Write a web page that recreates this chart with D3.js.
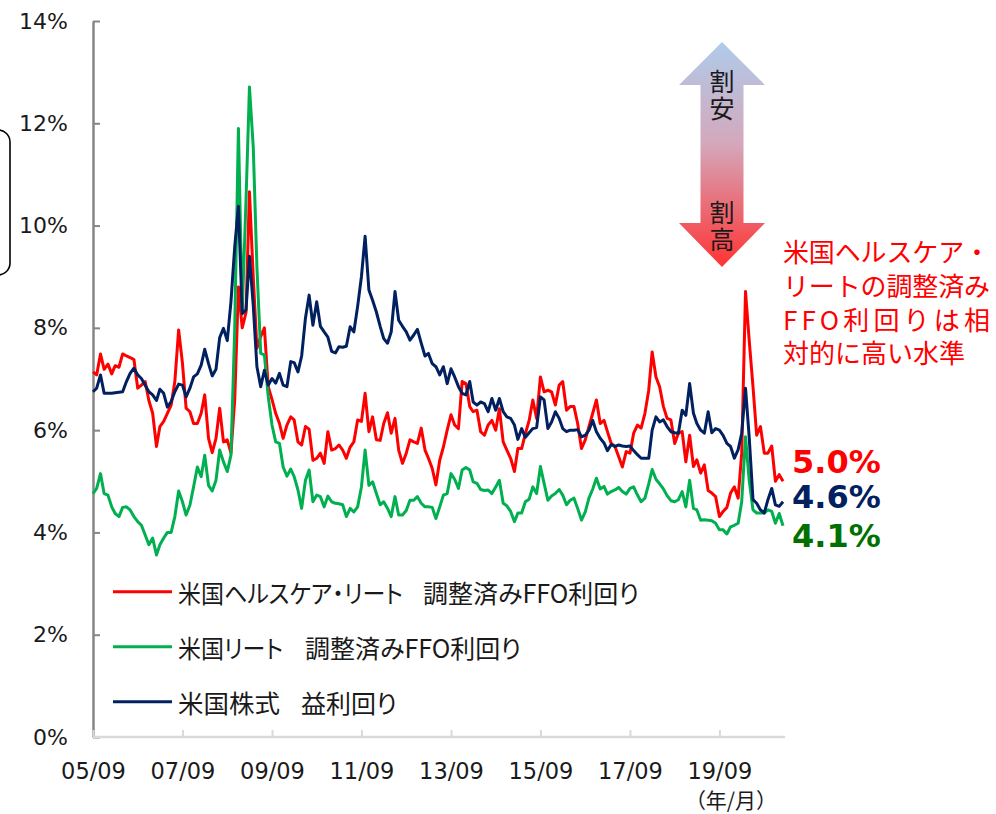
<!DOCTYPE html>
<html><head><meta charset="utf-8">
<script src="https://cdn.jsdelivr.net/npm/d3@7"></script>
<style>body{margin:0;background:#fff}svg{display:block}</style>
</head><body><svg id="c" width="996" height="814"></svg>
<script>
const startMonth = "2005-09";
const healthcareREIT = [7.14,7.08,7.49,7.19,7.29,7.10,7.26,7.23,7.49,7.45,
7.42,7.38,6.82,6.88,6.95,6.58,6.33,5.68,6.07,6.17,
6.33,6.49,6.95,7.96,7.31,6.43,6.36,6.13,6.13,6.33,
6.69,5.84,5.56,5.84,6.43,5.77,5.81,5.55,6.60,8.80,
8.00,8.30,10.66,9.00,7.60,7.83,8.00,6.85,6.60,6.33,
6.13,5.84,6.10,6.26,6.20,5.77,5.71,6.07,6.02,5.41,
5.45,5.55,5.35,5.97,5.61,5.64,5.71,5.61,5.45,5.67,
5.77,6.20,6.17,6.72,5.97,6.26,5.81,5.80,6.13,6.34,
5.94,6.23,5.61,5.35,5.55,5.81,5.77,5.74,6.04,5.61,
5.45,5.25,4.93,5.41,5.67,6.00,6.30,6.10,6.03,6.95,
6.91,6.46,6.36,6.39,5.97,5.90,6.10,6.19,6.00,6.42,
5.77,5.61,5.45,5.19,5.64,5.64,5.93,6.19,6.59,6.23,
7.04,6.75,6.78,6.75,6.49,6.88,6.95,6.39,6.46,6.46,
6.13,5.64,5.81,6.07,6.33,6.59,6.13,6.19,5.97,5.74,
5.68,5.48,5.28,5.58,5.55,5.94,6.10,6.04,6.33,6.78,
7.53,7.04,6.85,6.46,6.23,6.20,5.74,5.94,5.97,5.38,
5.90,5.29,5.42,5.16,5.32,4.82,4.77,4.70,4.31,4.41,
4.49,4.77,4.89,4.67,5.55,8.71,7.76,6.85,5.90,6.07,
5.55,5.55,5.69,5.00,5.13,5.00];
const usREIT = [4.76,4.86,5.15,4.76,4.73,4.50,4.37,4.31,4.49,4.50,
4.44,4.31,4.21,4.14,3.95,3.76,3.89,3.56,3.76,3.89,
4.00,4.00,4.31,4.81,4.60,4.34,4.53,4.89,5.28,5.09,
5.51,4.92,4.81,5.02,5.61,5.38,5.19,5.51,8.00,11.90,
8.30,10.50,12.71,11.54,9.19,7.50,7.47,6.66,6.10,5.77,
5.74,5.28,5.10,5.24,5.09,4.83,4.47,5.02,5.22,4.60,
4.73,4.70,4.50,4.71,4.60,4.57,4.56,4.54,4.31,4.47,
4.40,4.50,4.89,5.61,4.92,4.99,4.76,4.54,4.60,4.47,
4.31,4.70,4.34,4.34,4.43,4.63,4.63,4.70,4.57,4.50,
4.50,4.49,4.27,4.50,4.73,4.76,5.15,5.04,4.86,5.22,
5.27,5.22,4.99,4.96,4.84,4.82,4.83,4.76,4.89,5.02,
4.57,4.52,4.41,4.21,4.38,4.38,4.60,4.65,4.89,4.76,
5.29,4.96,4.63,4.71,4.76,4.84,4.73,4.54,4.63,4.67,
4.47,4.24,4.40,4.67,4.85,5.06,4.85,4.90,4.75,4.80,
4.83,4.88,4.80,4.75,4.86,4.89,4.73,4.60,4.67,4.95,
5.23,5.04,4.95,4.85,4.72,4.62,4.60,4.64,4.80,4.50,
5.02,4.47,4.44,4.24,4.25,4.24,4.23,4.18,4.05,4.05,
3.97,4.11,4.14,4.18,4.60,5.87,5.02,4.44,4.38,4.38,
4.38,4.44,4.41,4.18,4.37,4.13];
const usEquity = [6.75,6.82,7.08,6.72,6.72,6.72,6.73,6.74,6.75,6.95,
7.11,7.21,7.08,7.01,6.88,6.75,6.69,6.58,6.80,6.72,
6.45,6.56,6.75,6.90,6.88,6.65,6.82,7.04,7.10,7.27,
7.58,7.30,7.06,7.19,7.81,7.99,7.75,8.51,9.59,10.38,
8.28,8.35,9.40,8.44,7.24,6.85,7.17,6.88,7.01,6.92,
7.11,6.88,6.85,7.34,7.32,7.14,7.45,8.19,8.64,8.05,
8.51,8.03,7.92,7.82,7.54,7.51,7.63,7.62,7.64,8.02,
7.92,8.42,9.00,9.79,8.74,8.54,8.31,8.03,7.79,7.70,
7.92,8.71,8.15,8.03,7.92,7.76,7.86,7.97,7.70,7.45,
7.50,7.30,7.24,7.08,7.24,6.91,7.20,7.04,6.85,6.72,
6.69,6.95,6.55,6.49,6.55,6.52,6.36,6.62,6.39,6.62,
6.36,6.26,6.23,6.10,5.82,6.03,5.86,5.95,6.03,6.05,
6.65,6.59,6.03,6.16,6.36,6.23,6.03,5.97,6.00,6.00,
6.01,5.87,5.90,6.00,6.19,5.97,5.84,5.75,5.60,5.72,
5.68,5.71,5.69,5.68,5.69,5.60,5.52,5.45,5.45,5.45,
6.00,6.26,6.16,6.20,6.07,5.97,5.95,5.94,6.39,6.29,
6.91,6.33,6.13,6.00,5.94,6.36,5.95,6.03,6.00,5.90,
5.74,5.68,5.45,5.62,5.94,6.82,5.87,4.64,4.57,4.44,
4.38,4.64,4.86,4.54,4.51,4.60];
const yTicks = [0,2,4,6,8,10,12,14];
const xTickMonths = ["2005-09","2007-09","2009-09","2011-09","2013-09","2015-09","2017-09","2019-09"];
const legendLabels = [["米国ヘルスケア・リート","調整済みFFO利回り"],["米国リート","調整済みFFO利回り"],["米国株式","益利回り"]];
const seriesColors = ["#FF0000","#00B050","#002060"];
const endLabels = ["5.0%","4.6%","4.1%"];
const endLabelColors = ["#FF0000","#002060","#007000"];
const noteLines = ["米国ヘルスケア・","リートの調整済み","FFO利回りは相","対的に高い水準"];
const arrowWords = ["割安","割高"];
const unitLabel = "（年/月）";

const parse = d3.timeParse("%Y-%m");
const t0 = parse(startMonth);
const dates = healthcareREIT.map((_, i) => d3.timeMonth.offset(t0, i));
const svg = d3.select("#c");
const num = "DejaVu Sans, Verdana, sans-serif";
const jp = "'Noto Sans CJK JP', sans-serif";

const x = d3.scaleTime().domain([t0, d3.timeMonth.offset(t0, 185)]).range([93, 783]);
const y = d3.scaleLinear().domain([0, 14]).range([737, 21]);

// partial frame at left
svg.append("rect").attr("x", -120).attr("y", 130).attr("width", 130).attr("height", 145)
  .attr("rx", 12).attr("fill", "none").attr("stroke", "#000").attr("stroke-width", 1.6);

// y axis
const ya = svg.append("g").attr("transform", "translate(93,0)")
  .call(d3.axisLeft(y).tickValues(yTicks).tickFormat(d => d + "%").tickSizeInner(-7).tickSizeOuter(0).tickPadding(25));
ya.select(".domain").attr("stroke", "#868686").attr("stroke-width", 2.5);
ya.selectAll(".tick line").attr("stroke", "#868686").attr("stroke-width", 2);
ya.selectAll("text").attr("font-family", num).attr("font-size", 22).attr("fill", "#1a1a1a");

// x axis
const xa = svg.append("g").attr("transform", "translate(0,737)")
  .call(d3.axisBottom(x).tickValues(xTickMonths.map(parse)).tickFormat(d3.timeFormat("%y/%m")).tickSizeInner(-7).tickSizeOuter(0).tickPadding(26));
xa.select(".domain").attr("stroke", "#D9D9D9").attr("stroke-width", 2.5).attr("d", "M93,0H785");
xa.selectAll(".tick line").attr("stroke", "#D9D9D9").attr("stroke-width", 2);
xa.selectAll("text").attr("font-family", num).attr("font-size", 22.5).attr("fill", "#1a1a1a");

svg.append("text").attr("x", 731).attr("y", 808).attr("text-anchor", "middle")
  .attr("font-family", jp).attr("font-size", 21).attr("fill", "#1a1a1a").text(unitLabel);

// lines
const line = d3.line().x((d, i) => x(dates[i])).y(d => y(d));
[healthcareREIT, usREIT, usEquity].forEach((s, k) => {
  svg.append("path").datum(s).attr("d", line).attr("fill", "none")
    .attr("stroke", seriesColors[k]).attr("stroke-width", 3).attr("stroke-linejoin", "round");
});

// legend
const legendFirstW = [225, 105, 102];
const legendSecondX = [423, 305, 301];
legendLabels.forEach((lab, k) => {
  const ly = 591.7 + k * 55;
  svg.append("line").attr("x1", 113).attr("x2", 172).attr("y1", ly).attr("y2", ly)
    .attr("stroke", seriesColors[k]).attr("stroke-width", 3);
  const t = svg.append("text").attr("x", 178).attr("y", ly).attr("dominant-baseline", "central")
    .attr("font-family", jp).attr("font-size", 25).attr("fill", "#1a1a1a")
    .style("font-feature-settings", "'palt' 1");
  t.append("tspan").attr("textLength", legendFirstW[k]).attr("lengthAdjust", "spacingAndGlyphs").text(lab[0]);
  t.append("tspan").attr("x", legendSecondX[k]).text(lab[1]);
});

// end labels
[473, 508, 547].forEach((by, k) => {
  svg.append("text").attr("x", 792).attr("y", by).attr("font-family", num).attr("font-weight", "bold")
    .attr("font-size", 32).attr("fill", endLabelColors[k]).text(endLabels[k]);
});

// annotation (one text block)
const note = svg.append("text").attr("font-family", jp).attr("font-size", 26).attr("fill", "#FF0000");
noteLines.forEach((s, k) => {
  const t = note.append("tspan").attr("x", 783).attr("y", 262 + k * 33.8).text(s);
  if (k < 3) t.attr("textLength", 207).attr("lengthAdjust", "spacing");
});

// arrow
const defs = svg.append("defs");
const g = defs.append("linearGradient").attr("id", "ag").attr("gradientUnits", "userSpaceOnUse")
  .attr("x1", 0).attr("x2", 0).attr("y1", 42).attr("y2", 267);
g.append("stop").attr("offset", "0%").attr("stop-color", "#AFCBEA");
g.append("stop").attr("offset", "45%").attr("stop-color", "#D4A8BC");
g.append("stop").attr("offset", "100%").attr("stop-color", "#FF3333");
const cx = 722;
svg.append("path").attr("fill", "url(#ag)")
  .attr("d", `M${cx},42 L${cx+43},85 L${cx+21.5},85 L${cx+21.5},223 L${cx+43},223 L${cx},267 L${cx-43},223 L${cx-21.5},223 L${cx-21.5},85 L${cx-43},85 Z`);
arrowWords.forEach((w, k) => {
  svg.append("text").attr("x", cx).attr("y", k === 0 ? 96 : 227)
    .attr("text-anchor", "middle").style("writing-mode", "vertical-rl")
    .attr("letter-spacing", 2)
    .attr("font-family", jp).attr("font-size", 25).attr("fill", "#1a1a1a").text(w);
});
</script></body></html>
